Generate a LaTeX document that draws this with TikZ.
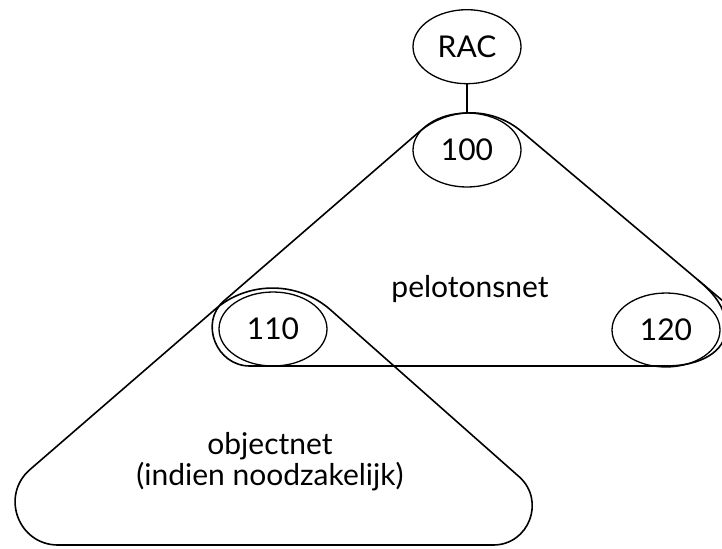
\documentclass[tikz,border=0pt]{standalone}
\usepackage{fontspec}
\setmainfont{Lato}
\usetikzlibrary{positioning,shapes.geometric}
\tikzset{
	net/.style={ellipse,draw,line width=0.65pt,inner sep=0pt,minimum width=54pt,minimum height=37pt},
	rand/.style={line width=0.8pt,line join=round}
}
\begin{document}
\begin{tikzpicture}[x=0.5pt,y=-0.5pt,font=\fontsize{15}{12}\selectfont]
		\useasboundingbox (0,0) rectangle (722,548);
		\node[net]									at (467,150)	(100)	{100};
		\node[net,node distance=14pt,above=of 100]					(RAC)	{RAC};
		\node[net]									at (273,329)	(110)	{110};
		\node[net]									at (666,330)	(120)	{120};
		\node										at (470,289)	(pel)	{pelotonsnet};
		\node[align=center]							at (270,462)	(obj)	{objectnet\\(indien noodzakelijk)};

		\draw[rand]	(419,132) -- (223.7,301.1) .. controls (199.5,322.2) and (215.7,366) .. (250,366)
					-- (666,366) .. controls (700,366) and (726,352) .. (726,328)
					.. controls (726,306) and (712,292) .. (698,280)
					-- (521.6,131.5) .. controls (491.9,106.4) and (448.4,106.7) .. (419,132) -- cycle;
		\draw[rand]	(698,280) -- (780,349);
		\draw[rand]	(214.9,309.5) .. controls (248.1,280.7) and (297.8,280.9) .. (330.7,310)
					-- (519.1,476.7) .. controls (545.9,500.5) and (529,545) .. (493.2,545)
					-- (58.1,545) .. controls (18.3,545) and (0,495.7) .. (29.9,469.6) -- cycle;
		\draw[rand]	(RAC) -- (100);
	\end{tikzpicture}
\end{document}
